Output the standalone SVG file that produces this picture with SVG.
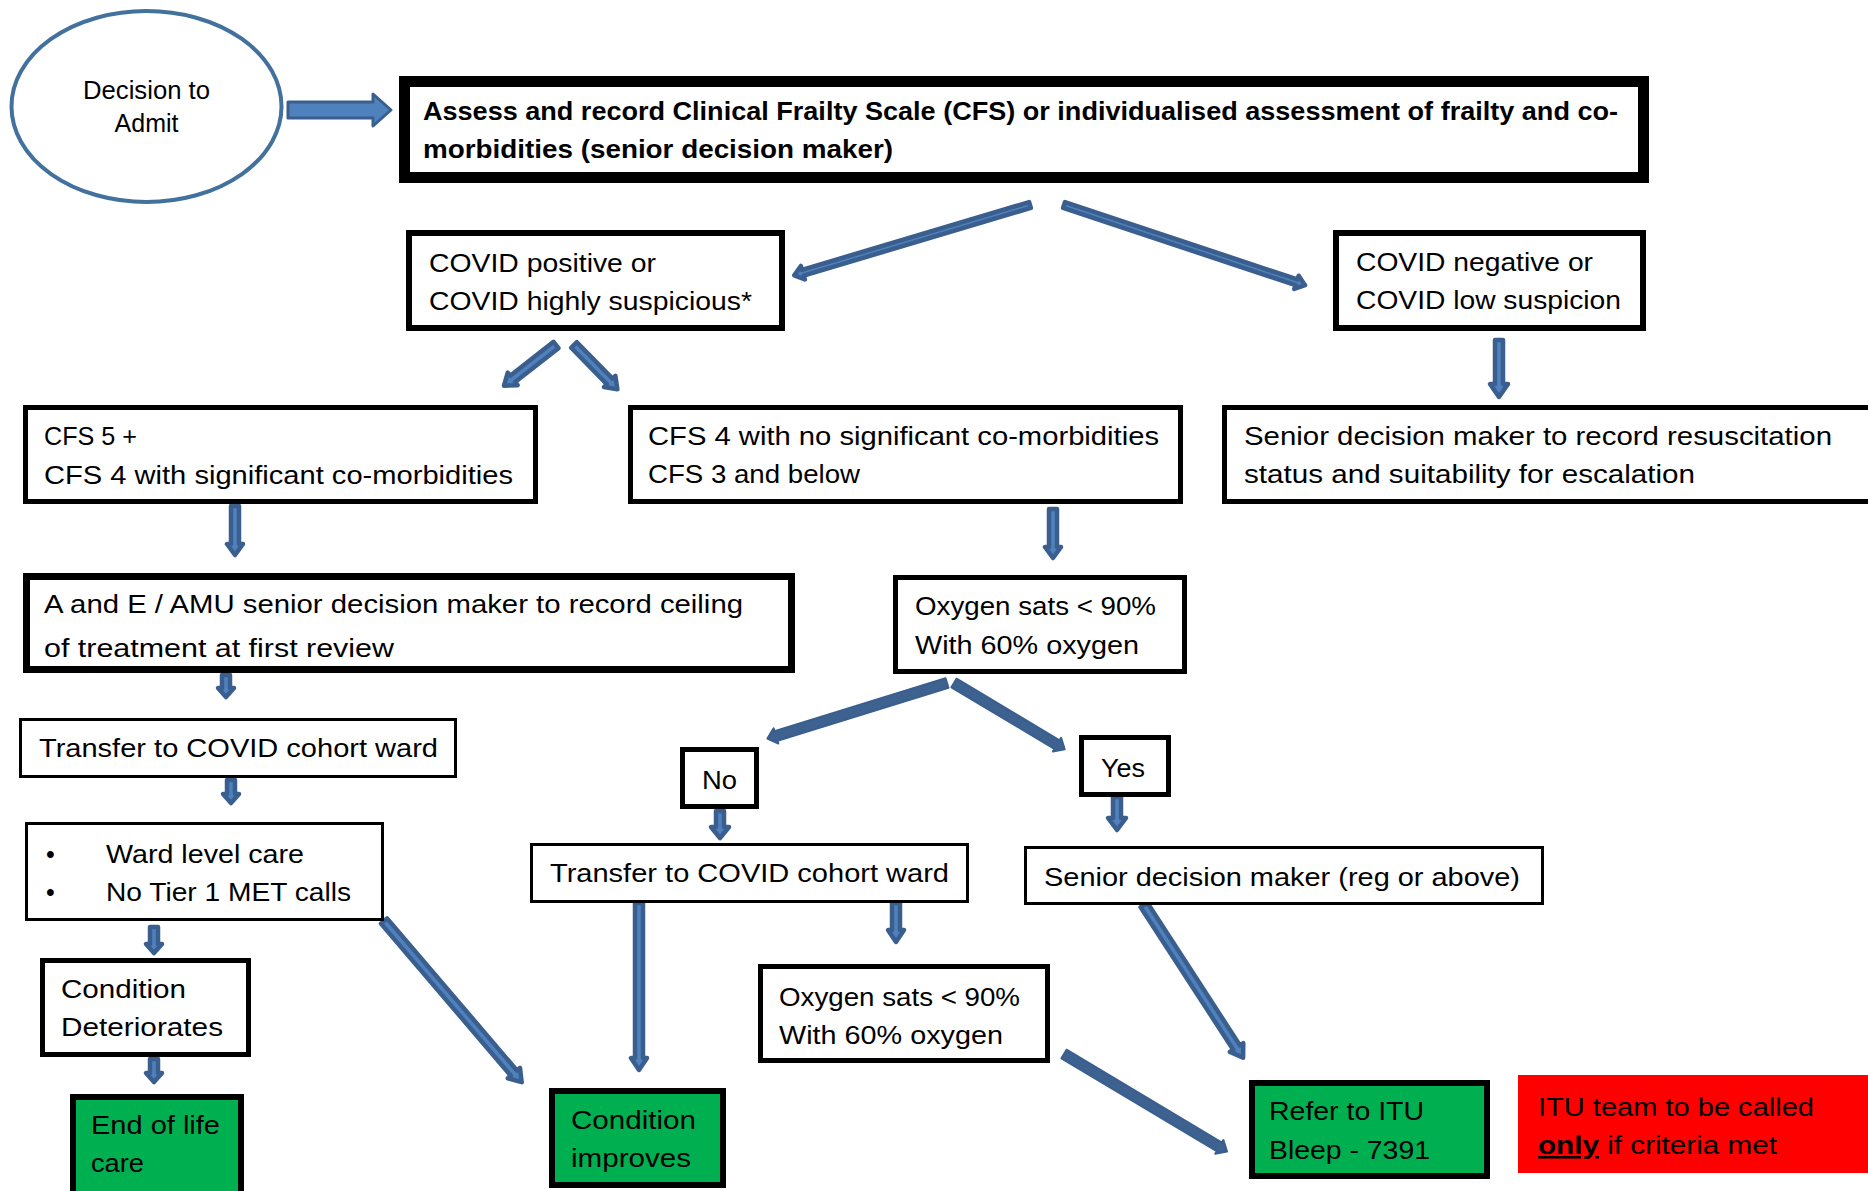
<svg xmlns="http://www.w3.org/2000/svg" width="1868" height="1191" viewBox="0 0 1868 1191">
<style>
.t{font-family:'Liberation Sans',Arial,sans-serif;font-size:25px;fill:#000}
.b{font-weight:bold}
.box{fill:#fff;stroke:#000}
.g{fill:#00b050;stroke:#000}
.arr{fill:#4f81bd;stroke:#3a5f8e;stroke-width:4.5;stroke-linejoin:round}
.arr0{fill:#4f81bd;stroke:#3a5f8e;stroke-width:3;stroke-linejoin:round}
.arrd{fill:#3d6290;stroke:#3a5f8e;stroke-width:2;stroke-linejoin:round}
</style>
<rect width="1868" height="1191" fill="#fff"/>
<g id="connectors">
<path class="arr0" d="M0,-8H85V-16L103,0L85,16V8H0Z" transform="translate(288,110)"/>
<path class="arr" d="M0,-3H237V-7L246,0L237,7V3H0Z" transform="translate(1030,205) rotate(163.4)"/>
<path class="arr" d="M0,-3H245V-7L254,0L245,7V3H0Z" transform="translate(1064,205) rotate(18.4)"/>
<path class="arr" d="M0,-4H44V-9L57,0L44,9V4H0Z" transform="translate(1499,340) rotate(90)"/>
<path class="arr" d="M0,-4H55V-8L66,0L55,8V4H0Z" transform="translate(556,345) rotate(142)"/>
<path class="arr" d="M0,-4H51V-8L62,0L51,8V4H0Z" transform="translate(574,345) rotate(45.6)"/>
<path class="arr" d="M0,-4H38V-8L49,0L38,8V4H0Z" transform="translate(235,506) rotate(90)"/>
<path class="arr" d="M0,-4H38V-8L49,0L38,8V4H0Z" transform="translate(1053,509) rotate(90)"/>
<path class="arr" d="M0,-4H13V-8L22,0L13,8V4H0Z" transform="translate(226,675) rotate(90)"/>
<path class="arr" d="M0,-4H14V-8L23,0L14,8V4H0Z" transform="translate(231,780) rotate(90)"/>
<path class="arr" d="M0,-4H17V-8L26,0L17,8V4H0Z" transform="translate(154,927) rotate(90)"/>
<path class="arr" d="M0,-4H14V-8L23,0L14,8V4H0Z" transform="translate(154,1059) rotate(90)"/>
<path class="arr" d="M0,-4H200V-8L212,0L200,8V4H0Z" transform="translate(384,921) rotate(49.5)"/>
<path class="arrd" d="M0,-5H179V-8L188,0L179,8V5H0Z" transform="translate(947,683) rotate(162.8)"/>
<path class="arrd" d="M0,-5H120V-8L129,0L120,8V5H0Z" transform="translate(954,683) rotate(30.9)"/>
<path class="arr" d="M0,-4H16V-9L27,0L16,9V4H0Z" transform="translate(720,811) rotate(90)"/>
<path class="arr" d="M0,-4H21V-9L33,0L21,9V4H0Z" transform="translate(1117,797) rotate(90)"/>
<path class="arr" d="M0,-4H155V-8L167,0L155,8V4H0Z" transform="translate(639,903) rotate(90)"/>
<path class="arr" d="M0,-4H27V-8L39,0L27,8V4H0Z" transform="translate(896,903) rotate(90)"/>
<path class="arrd" d="M0,-5H181V-8L190,0L181,8V5H0Z" transform="translate(1064,1054) rotate(30.9)"/>
<path class="arr" d="M0,-4H170V-8L182,0L170,8V4H0Z" transform="translate(1144,905) rotate(57)"/>
</g>
<g id="decision">
<ellipse cx="146.5" cy="106.5" rx="135" ry="95.5" fill="#fff" stroke="#41719c" stroke-width="4"/>
<text class="t" x="146.5" y="99" font-size="22" text-anchor="middle" textLength="127" lengthAdjust="spacingAndGlyphs">Decision to</text>
<text class="t" x="146.5" y="132" font-size="22" text-anchor="middle">Admit</text>
</g>
<g id="assess">
<rect class="box" x="404.5" y="81.5" width="1239" height="96" stroke-width="11"/>
<text class="t b" x="423" y="120" textLength="1195" lengthAdjust="spacingAndGlyphs">Assess and record Clinical Frailty Scale (CFS) or individualised assessment of frailty and co-</text>
<text class="t b" x="423" y="158" textLength="470" lengthAdjust="spacingAndGlyphs">morbidities (senior decision maker)</text>
</g>
<g id="covid-pos">
<rect class="box" x="409" y="233" width="373" height="95" stroke-width="6"/>
<text class="t" x="429" y="272" textLength="227" lengthAdjust="spacingAndGlyphs">COVID positive or</text>
<text class="t" x="429" y="310" textLength="323" lengthAdjust="spacingAndGlyphs">COVID highly suspicious*</text>
</g>
<g id="covid-neg">
<rect class="box" x="1336" y="233" width="307" height="95" stroke-width="6"/>
<text class="t" x="1356" y="271" textLength="237" lengthAdjust="spacingAndGlyphs">COVID negative or</text>
<text class="t" x="1356" y="309" textLength="265" lengthAdjust="spacingAndGlyphs">COVID low suspicion</text>
</g>
<g id="senior-resus">
<rect class="box" x="1224.5" y="407.5" width="660" height="94" stroke-width="5"/>
<text class="t" x="1244" y="445" textLength="588" lengthAdjust="spacingAndGlyphs">Senior decision maker to record resuscitation</text>
<text class="t" x="1244" y="483" textLength="451" lengthAdjust="spacingAndGlyphs">status and suitability for escalation</text>
</g>
<g id="cfs5">
<rect class="box" x="25.5" y="407.5" width="510" height="94" stroke-width="5"/>
<text class="t" x="44" y="445" textLength="93" lengthAdjust="spacingAndGlyphs">CFS 5 +</text>
<text class="t" x="44" y="484" textLength="469" lengthAdjust="spacingAndGlyphs">CFS 4 with significant co-morbidities</text>
</g>
<g id="cfs4">
<rect class="box" x="630.5" y="407.5" width="550" height="94" stroke-width="5"/>
<text class="t" x="648" y="445" textLength="511" lengthAdjust="spacingAndGlyphs">CFS 4 with no significant co-morbidities</text>
<text class="t" x="648" y="483" textLength="212" lengthAdjust="spacingAndGlyphs">CFS 3 and below</text>
</g>
<g id="ae">
<rect class="box" x="26.5" y="576.5" width="765" height="93" stroke-width="7"/>
<text class="t" x="44" y="613" textLength="699" lengthAdjust="spacingAndGlyphs">A and E / AMU senior decision maker to record ceiling</text>
<text class="t" x="44" y="657" textLength="350" lengthAdjust="spacingAndGlyphs">of treatment at first review</text>
</g>
<g id="oxygen1">
<rect class="box" x="895.5" y="577.5" width="289" height="94" stroke-width="5"/>
<text class="t" x="915" y="615" textLength="241" lengthAdjust="spacingAndGlyphs">Oxygen sats &lt; 90%</text>
<text class="t" x="915" y="654" textLength="224" lengthAdjust="spacingAndGlyphs">With 60% oxygen</text>
</g>
<g id="transfer1">
<rect class="box" x="20.5" y="719.5" width="435" height="57" stroke-width="3"/>
<text class="t" x="39" y="757" textLength="399" lengthAdjust="spacingAndGlyphs">Transfer to COVID cohort ward</text>
</g>
<g id="ward">
<rect class="box" x="26.5" y="823.5" width="356" height="96" stroke-width="3"/>
<text class="t" x="46" y="863">•</text>
<text class="t" x="46" y="901">•</text>
<text class="t" x="106" y="863" textLength="198" lengthAdjust="spacingAndGlyphs">Ward level care</text>
<text class="t" x="106" y="901" textLength="245" lengthAdjust="spacingAndGlyphs">No Tier 1 MET calls</text>
</g>
<g id="deteriorates">
<rect class="box" x="42.5" y="960.5" width="206" height="94" stroke-width="5"/>
<text class="t" x="61" y="998" textLength="125" lengthAdjust="spacingAndGlyphs">Condition</text>
<text class="t" x="61" y="1036" textLength="162" lengthAdjust="spacingAndGlyphs">Deteriorates</text>
</g>
<g id="end-of-life">
<rect class="g" x="73" y="1097" width="168" height="100" stroke-width="6"/>
<text class="t" x="91" y="1134" textLength="129" lengthAdjust="spacingAndGlyphs">End of life</text>
<text class="t" x="91" y="1172" textLength="53" lengthAdjust="spacingAndGlyphs">care</text>
</g>
<g id="no">
<rect class="box" x="682.5" y="749.5" width="74" height="57" stroke-width="5"/>
<text class="t" x="719.5" y="789" text-anchor="middle" textLength="35" lengthAdjust="spacingAndGlyphs">No</text>
</g>
<g id="yes">
<rect class="box" x="1081.5" y="737.5" width="87" height="57" stroke-width="5"/>
<text class="t" x="1123" y="777" text-anchor="middle" textLength="44" lengthAdjust="spacingAndGlyphs">Yes</text>
</g>
<g id="transfer2">
<rect class="box" x="531.5" y="844.5" width="436" height="57" stroke-width="3"/>
<text class="t" x="550" y="882" textLength="399" lengthAdjust="spacingAndGlyphs">Transfer to COVID cohort ward</text>
</g>
<g id="senior-reg">
<rect class="box" x="1025.5" y="847.5" width="517" height="56" stroke-width="3"/>
<text class="t" x="1044" y="886" textLength="476" lengthAdjust="spacingAndGlyphs">Senior decision maker (reg or above)</text>
</g>
<g id="oxygen2">
<rect class="box" x="760.5" y="966.5" width="287" height="94" stroke-width="5"/>
<text class="t" x="779" y="1006" textLength="241" lengthAdjust="spacingAndGlyphs">Oxygen sats &lt; 90%</text>
<text class="t" x="779" y="1044" textLength="224" lengthAdjust="spacingAndGlyphs">With 60% oxygen</text>
</g>
<g id="improves">
<rect class="g" x="552" y="1091" width="171" height="94" stroke-width="6"/>
<text class="t" x="571" y="1129" textLength="125" lengthAdjust="spacingAndGlyphs">Condition</text>
<text class="t" x="571" y="1167" textLength="120" lengthAdjust="spacingAndGlyphs">improves</text>
</g>
<g id="refer-itu">
<rect class="g" x="1252" y="1083" width="235" height="93" stroke-width="6"/>
<text class="t" x="1269" y="1120" textLength="155" lengthAdjust="spacingAndGlyphs">Refer to ITU</text>
<text class="t" x="1269" y="1159" textLength="161" lengthAdjust="spacingAndGlyphs">Bleep - 7391</text>
</g>
<g id="itu-note">
<rect x="1518" y="1075" width="350" height="98" fill="#ff0000"/>
<text class="t" x="1538" y="1116" textLength="276" lengthAdjust="spacingAndGlyphs">ITU team to be called</text>
<text class="t" x="1538" y="1154" textLength="239" lengthAdjust="spacingAndGlyphs"><tspan font-weight="bold" text-decoration="underline">only</tspan> if criteria met</text>
</g>
</svg>
